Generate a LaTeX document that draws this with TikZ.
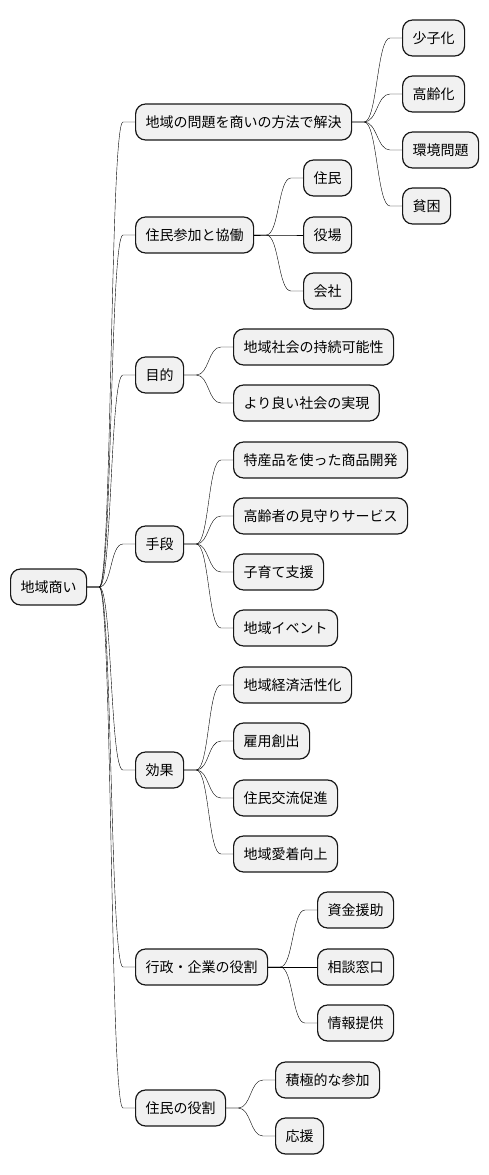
\documentclass[tikz,border=0pt]{standalone}
\usepackage{fontspec}
\usepackage{tikz}
\usetikzlibrary{calc,positioning}
\newfontfamily\jpfont{Noto Sans CJK JP}
\definecolor{ink}{HTML}{181818}
\definecolor{soft}{HTML}{F1F1F1}
\tikzset{
  topic/.style={draw=ink,line width=1.2pt,rounded corners=10pt,fill=soft,
    minimum height=36pt,inner xsep=10pt,inner ysep=0pt,anchor=west,
    font=\jpfont\fontsize{14}{16}\selectfont,text=black},
  branch/.style={draw=ink,line width=0.8pt,
    to path={-- ++(12pt,0) .. controls +(13pt,0) and +(-13pt,0)
      .. ($(\tikztotarget.west)+(-12pt,0)$) -- (\tikztotarget.west)}},
}

\begin{document}
\begin{tikzpicture}[x=1pt,y=-1pt]
  \useasboundingbox (0,0) rectangle (488,1175);
  % root
  \node[topic] (root) at (10,587) {地域商い};
  % first level
  \node[topic] (prob) at (135,122) {地域の問題を商いの方法で解決};
  \node[topic] (part) at (135,235) {住民参加と協働};
  \node[topic] (goal) at (135,375) {目的};
  \node[topic] (mean) at (135,544) {手段};
  \node[topic] (eff)  at (135,770) {効果};
  \node[topic] (gov)  at (135,967) {行政・企業の役割};
  \node[topic] (res)  at (135,1108) {住民の役割};
  % problems
  \node[topic] (prob1) at (402,38)  {少子化};
  \node[topic] (prob2) at (402,94)  {高齢化};
  \node[topic] (prob3) at (402,150) {環境問題};
  \node[topic] (prob4) at (402,206) {貧困};
  % participation
  \node[topic] (part1) at (303,178) {住民};
  \node[topic] (part2) at (303,235) {役場};
  \node[topic] (part3) at (303,291) {会社};
  % goals
  \node[topic] (goal1) at (233,347) {地域社会の持続可能性};
  \node[topic] (goal2) at (233,403) {より良い社会の実現};
  % means
  \node[topic] (mean1) at (233,460) {特産品を使った商品開発};
  \node[topic] (mean2) at (233,516) {高齢者の見守りサービス};
  \node[topic] (mean3) at (233,572) {子育て支援};
  \node[topic] (mean4) at (233,628) {地域イベント};
  % effects
  \node[topic] (eff1) at (233,685) {地域経済活性化};
  \node[topic] (eff2) at (233,741) {雇用創出};
  \node[topic] (eff3) at (233,798) {住民交流促進};
  \node[topic] (eff4) at (233,854) {地域愛着向上};
  % government and companies
  \node[topic] (gov1) at (317,910)  {資金援助};
  \node[topic] (gov2) at (317,967)  {相談窓口};
  \node[topic] (gov3) at (317,1023) {情報提供};
  % residents
  \node[topic] (res1) at (275,1080) {積極的な参加};
  \node[topic] (res2) at (275,1136) {応援};

  \draw (root.east) to[branch] (prob);
  \draw (root.east) to[branch] (part);
  \draw (root.east) to[branch] (goal);
  \draw (root.east) to[branch] (mean);
  \draw (root.east) to[branch] (eff);
  \draw (root.east) to[branch] (gov);
  \draw (root.east) to[branch] (res);
  \draw (prob.east) to[branch] (prob1);
  \draw (prob.east) to[branch] (prob2);
  \draw (prob.east) to[branch] (prob3);
  \draw (prob.east) to[branch] (prob4);
  \draw (part.east) to[branch] (part1);
  \draw (part.east) to[branch] (part2);
  \draw (part.east) to[branch] (part3);
  \draw (goal.east) to[branch] (goal1);
  \draw (goal.east) to[branch] (goal2);
  \draw (mean.east) to[branch] (mean1);
  \draw (mean.east) to[branch] (mean2);
  \draw (mean.east) to[branch] (mean3);
  \draw (mean.east) to[branch] (mean4);
  \draw (eff.east) to[branch] (eff1);
  \draw (eff.east) to[branch] (eff2);
  \draw (eff.east) to[branch] (eff3);
  \draw (eff.east) to[branch] (eff4);
  \draw (gov.east) to[branch] (gov1);
  \draw (gov.east) to[branch] (gov2);
  \draw (gov.east) to[branch] (gov3);
  \draw (res.east) to[branch] (res1);
  \draw (res.east) to[branch] (res2);
\end{tikzpicture}
\end{document}
